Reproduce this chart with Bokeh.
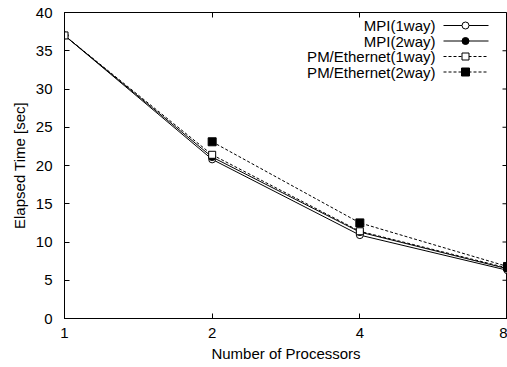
from bokeh.plotting import figure
from bokeh.models import (FixedTicker, PrintfTickFormatter, LogAxis,
                          Label, Arrow, BoxAnnotation, Range1d, CustomLabelingPolicy)
from bokeh.embed import file_html
from bokeh.resources import INLINE

# ---- data ----
processors = [1, 2, 4, 8]
mpi_1way = [37.0, 20.8, 10.9, 6.3]
mpi_2way = [37.0, 21.1, 11.3, 6.5]
pm_1way = [37.0, 21.4, 11.4, 6.6]
processors_pm2 = [2, 4, 8]
pm_2way = [23.1, 12.5, 6.8]
series_names = ["MPI(1way)", "MPI(2way)", "PM/Ethernet(1way)", "PM/Ethernet(2way)"]
x_ticks = [1, 2, 4, 8]
y_ticks = [0, 5, 10, 15, 20, 25, 30, 35, 40]

FONT = "Liberation Sans"
FS = "15px"

p = figure(width=507, height=367, x_axis_type="log",
           x_range=Range1d(x_ticks[0], x_ticks[-1]), y_range=Range1d(y_ticks[0], y_ticks[-1]),
           output_backend="svg", toolbar_location=None,
           min_border_left=64, min_border_right=0, min_border_top=12, min_border_bottom=49)
p.grid.visible = False
p.outline_line_color = "black"
p.outline_line_width = 1
p.background_fill_color = "white"
p.border_fill_color = "white"

for ax in (p.xaxis[0], p.yaxis[0]):
    ax.major_tick_in = 5
    ax.major_tick_out = 0
    ax.minor_tick_line_color = None
    ax.axis_line_color = "black"
    ax.major_tick_line_color = "black"
    ax.major_label_text_font = FONT
    ax.major_label_text_font_size = FS
    ax.major_label_text_color = "black"
    ax.axis_label_text_font = FONT
    ax.axis_label_text_font_size = FS
    ax.axis_label_text_font_style = "normal"
    ax.axis_label_text_color = "black"

p.xaxis[0].ticker = FixedTicker(ticks=x_ticks)
p.xaxis[0].formatter = PrintfTickFormatter(format="%d")
p.xaxis[0].axis_label = "Number of Processors"
p.xaxis[0].major_label_standoff = 9
p.xaxis[0].axis_label_standoff = 4
p.yaxis[0].ticker = FixedTicker(ticks=y_ticks)
p.yaxis[0].axis_label = "Elapsed Time [sec]"
p.yaxis[0].major_label_standoff = 12
p.yaxis[0].axis_label_standoff = 5

# mirrored ticks on top (axis without labels)
hide_all = "for (let i = 0; i < indices.size; i++) { indices.unset(i) }\nreturn indices"
ta = LogAxis(ticker=FixedTicker(ticks=x_ticks), major_label_text_font_size="1px",
             major_label_policy=CustomLabelingPolicy(code=hide_all),
             major_tick_in=5, major_tick_out=0, axis_line_color=None,
             minor_tick_line_color=None, major_label_standoff=0,
             major_tick_line_color="black")
p.add_layout(ta, "above")
# mirrored ticks on the right edge (at the last x tick)
p.scatter([x_ticks[-1]] * len(y_ticks), y_ticks, marker="dash", size=10,
          line_color="black", line_width=1)

# ---- series ----
styles = [
    dict(x=processors, values=mpi_1way, dash="solid", marker="circle", fill="white", size=7),
    dict(x=processors, values=mpi_2way, dash="solid", marker="circle", fill="black", size=7),
    dict(x=processors, values=pm_1way, dash="3 2", marker="square", fill="white", size=7),
    dict(x=processors_pm2, values=pm_2way, dash="3 2", marker="square", fill="black", size=8),
]
for s in styles:
    p.line(s["x"], s["values"], line_color="black", line_width=1, line_dash=s["dash"])
    p.scatter(s["x"], s["values"], marker=s["marker"], size=s["size"],
              fill_color=s["fill"], line_color="black", line_width=1)

# ---- legend (gnuplot style: text right-aligned, sample at right) ----
text_right = 371
line_x0, line_x1 = 379, 424
mark_x = 401
row_y = [293, 277.5, 262, 246.5]
for name, s, y in zip(series_names, styles, row_y):
    p.add_layout(Label(x=text_right, y=y, x_units="screen", y_units="screen",
                       text=name, text_align="right", text_baseline="middle",
                       text_font=FONT, text_font_size=FS, text_color="black"))
    p.add_layout(Arrow(start=None, end=None, x_start=line_x0, y_start=y,
                       x_end=line_x1, y_end=y, start_units="screen", end_units="screen",
                       line_color="black", line_width=1, line_dash=s["dash"]))
    half = s["size"] / 2
    p.add_layout(BoxAnnotation(left=mark_x - half, right=mark_x + half,
                               bottom=y - half, top=y + half,
                               left_units="screen", right_units="screen",
                               top_units="screen", bottom_units="screen",
                               fill_color=s["fill"], fill_alpha=1,
                               line_color="black", line_alpha=1, line_width=1,
                               border_radius=int(round(half)) if s["marker"] == "circle" else 0))

open("out.html", "w").write(file_html(p, INLINE))
